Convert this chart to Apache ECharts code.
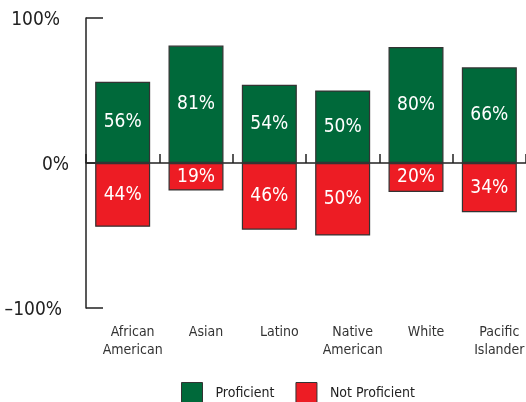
<!DOCTYPE html>
<html><head><meta charset="utf-8">
<script src="https://cdn.jsdelivr.net/npm/echarts@6/dist/echarts.min.js"></script>
<style>html,body{margin:0;padding:0;background:#fff}#c{width:526px;height:402px}</style>
</head><body><div id="c"></div>
<script>
const categories = ['African\nAmerican', 'Asian', 'Latino', 'Native\nAmerican', 'White', 'Pacific\nIslander'];
const proficient = [56, 81, 54, 50, 80, 66];
const notProficient = [-44, -19, -46, -50, -20, -34];
const yTickLabels = {'100': '{a|100%}', '0': '{b|0%}', '-100': '{c|–100%}'};
const FONT = '"DejaVu Sans Condensed", "Liberation Sans Narrow", sans-serif';

const chart = echarts.init(document.getElementById('c'));
chart.setOption({
  animation: false,
  textStyle: {fontFamily: FONT},
  grid: {left: 86, right: 0, top: 18, bottom: 94, containLabel: false, outerBoundsMode: 'none'},
  legend: {
    bottom: -7, left: 176, itemWidth: 21, itemHeight: 21, itemGap: 21,
    icon: 'rect',
    textStyle: {fontFamily: FONT, fontSize: 14, color: '#222', padding: [0, 0, 0, 8]},
    data: [
      {name: 'Proficient', itemStyle: {color: '#00693A', borderColor: '#333', borderWidth: 1}},
      {name: 'Not Proficient', itemStyle: {color: '#ED1C24', borderColor: '#333', borderWidth: 1}}
    ]
  },
  xAxis: [
    {type: 'category', data: categories, position: 'bottom',
     axisLine: {onZero: true, lineStyle: {color: '#222', width: 1.5}},
     axisTick: {show: true, inside: true, length: 9, lineStyle: {color: '#222', width: 1.5}},
     axisLabel: {show: false}},
    {type: 'category', data: categories, position: 'bottom', offset: 0,
     axisLine: {show: false, onZero: false}, axisTick: {show: false},
     axisLabel: {show: true, fontFamily: FONT, fontSize: 14, color: '#333', lineHeight: 18, margin: 15, interval: 0,
       padding: [0, 0, 0, 20]}}
  ],
  yAxis: {
    type: 'value', min: -100, max: 100, interval: 100,
    axisLine: {show: true, lineStyle: {color: '#222', width: 1.5}},
    axisTick: {show: true, inside: true, length: 17, lineStyle: {color: '#222', width: 1.5}},
    splitLine: {show: false},
    axisLabel: {fontFamily: FONT, fontSize: 19, color: '#222', margin: 17,
      formatter: v => yTickLabels[String(v)],
      rich: {
        a: {fontFamily: FONT, fontSize: 19, color: '#222', padding: [5, 9, 0, 0]},
        b: {fontFamily: FONT, fontSize: 19, color: '#222', padding: [5, 0, 0, 0]},
        c: {fontFamily: FONT, fontSize: 19, color: '#222', padding: [4, 7, 0, 0]}
      }}
  },
  series: [
    {name: 'Proficient', type: 'bar', stack: 's', barWidth: '75%', data: proficient,
     itemStyle: {color: '#00693A', borderColor: '#333', borderWidth: 1.2},
     label: {show: true, position: 'inside', formatter: p => p.value + '%', color: '#fff', fontFamily: FONT, fontSize: 19}},
    {name: 'Not Proficient', type: 'bar', stack: 's', barWidth: '75%', data: notProficient,
     itemStyle: {color: '#ED1C24', borderColor: '#333', borderWidth: 1.2},
     label: {show: true, position: 'inside', formatter: p => Math.abs(p.value) + '%', color: '#fff', fontFamily: FONT, fontSize: 19}}
  ]
});
</script></body></html>
